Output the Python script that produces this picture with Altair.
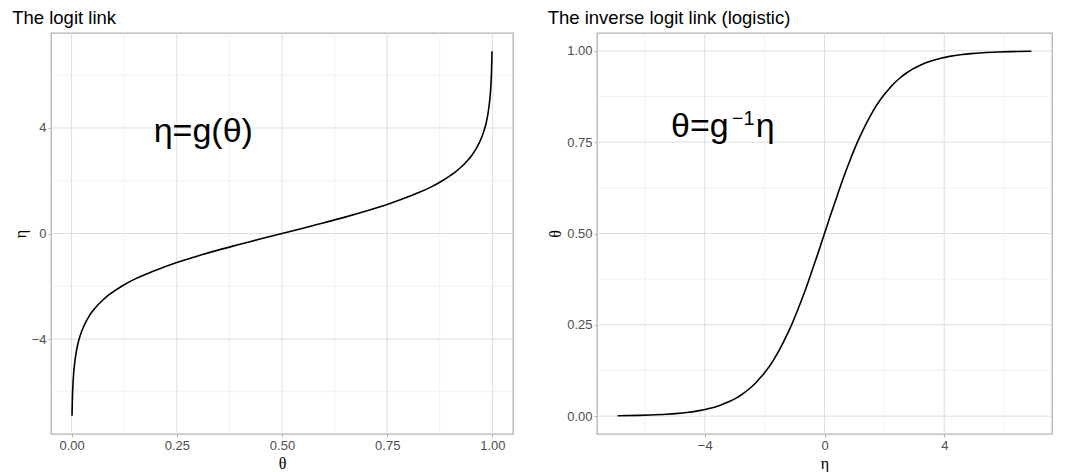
import altair as alt
import pandas as pd

# Probability / linear-predictor pairs along the logit curve
theta = [0.001, 0.002, 0.003, 0.005, 0.0075, 0.01, 0.015, 0.02, 0.03, 0.04,
         0.05, 0.06, 0.075, 0.09, 0.1, 0.12, 0.15, 0.175, 0.2, 0.25,
         0.3, 0.35, 0.4, 0.45, 0.5, 0.55, 0.6, 0.65, 0.7, 0.75,
         0.8, 0.825, 0.85, 0.88, 0.9, 0.91, 0.925, 0.94, 0.95, 0.96,
         0.97, 0.98, 0.985, 0.99, 0.9925, 0.995, 0.997, 0.998, 0.999]
eta = [-6.91, -6.21, -5.81, -5.29, -4.89, -4.60, -4.18, -3.89, -3.48, -3.18,
       -2.94, -2.75, -2.51, -2.31, -2.20, -1.99, -1.73, -1.55, -1.39, -1.10,
       -0.85, -0.62, -0.41, -0.20, 0.00, 0.20, 0.41, 0.62, 0.85, 1.10,
       1.39, 1.55, 1.73, 1.99, 2.20, 2.31, 2.51, 2.75, 2.94, 3.18,
       3.48, 3.89, 4.18, 4.60, 4.89, 5.29, 5.81, 6.21, 6.91]

theta_major = [0.0, 0.25, 0.5, 0.75, 1.0]
theta_minor = [0.125, 0.375, 0.625, 0.875]
eta_major = [-4, 0, 4]
eta_minor = [-6, -2, 2, 6]

curve = pd.DataFrame({"theta": theta, "eta": eta})

THETA_DOM = [-0.0489, 1.0489]
ETA_DOM = [-7.6, 7.6]
H = 401

MAJOR = "#dedede"
MINOR = "#ececec"
minus = "replace(datum.label, '-', '\u2212')"


def axis(values, fmt=None, expr=None, title=""):
    kw = dict(values=values, grid=False, tickColor="#b3b3b3", tickSize=3,
              tickWidth=1, domain=False, labelColor="#4d4d4d", labelFontSize=13,
              labelFont="Liberation Sans", labelPadding=2, title=title,
              titleFont="Liberation Serif", titleFontSize=16,
              titleFontWeight="normal", titleColor="#000000", titlePadding=3)
    if fmt:
        kw["format"] = fmt
    if expr:
        kw["labelExpr"] = expr
    return alt.Axis(**kw)


def panel(xcol, ycol, xs, ys, xax, yax, xmaj, xmin, ymaj, ymin):
    def vgrid(values, color, width):
        return alt.Chart(pd.DataFrame({xcol: values})).mark_rule(
            color=color, strokeWidth=width
        ).encode(x=alt.X(f"{xcol}:Q", scale=xs, axis=xax))

    def hgrid(values, color, width):
        return alt.Chart(pd.DataFrame({ycol: values})).mark_rule(
            color=color, strokeWidth=width
        ).encode(y=alt.Y(f"{ycol}:Q", scale=ys, axis=yax))

    line = alt.Chart(curve).mark_line(
        color="#000000", strokeWidth=1.6, interpolate="monotone"
    ).encode(
        x=alt.X(f"{xcol}:Q", scale=xs, axis=xax),
        y=alt.Y(f"{ycol}:Q", scale=ys, axis=yax),
        order=f"{xcol}:Q",
    )
    return [vgrid(xmin, MINOR, 0.7), hgrid(ymin, MINOR, 0.7),
            vgrid(xmaj, MAJOR, 1), hgrid(ymaj, MAJOR, 1), line]


def title(text):
    return alt.TitleParams(text, anchor="start", fontSize=18.5,
                           font="Liberation Sans", fontWeight="normal",
                           color="#000000", offset=5)


# Left panel: eta = logit(theta)
xs_l = alt.Scale(domain=THETA_DOM, nice=False, zero=False)
ys_l = alt.Scale(domain=ETA_DOM, nice=False, zero=False)
xax_l = axis(theta_major, fmt=".2f", title="θ")
yax_l = axis(eta_major, expr=minus, title="η")

left_label = alt.Chart(pd.DataFrame({"theta": [0.313], "eta": [3.83], "t": ["η=g(θ)"]})).mark_text(
    font="Liberation Sans", fontSize=34, align="center", baseline="middle", color="#000000"
).encode(x=alt.X("theta:Q", scale=xs_l, axis=xax_l),
         y=alt.Y("eta:Q", scale=ys_l, axis=yax_l), text="t:N")

left = alt.layer(
    *panel("theta", "eta", xs_l, ys_l, xax_l, yax_l,
           theta_major, theta_minor, eta_major, eta_minor),
    left_label,
).properties(width=462, height=H, title=title("The logit link"))

# Right panel: theta = inverse logit(eta)
xs_r = alt.Scale(domain=ETA_DOM, nice=False, zero=False)
ys_r = alt.Scale(domain=THETA_DOM, nice=False, zero=False)
xax_r = axis(eta_major, expr=minus, title="η")
yax_r = axis(theta_major, fmt=".2f", title="θ")

anno = pd.DataFrame({"eta": [-3.2], "theta": [0.764]})
enc_r = dict(x=alt.X("eta:Q", scale=xs_r, axis=xax_r),
             y=alt.Y("theta:Q", scale=ys_r, axis=yax_r))
r_main = alt.Chart(anno).mark_text(
    font="Liberation Sans", fontSize=34, align="right", baseline="alphabetic",
    color="#000000", text="θ=g"
).encode(**enc_r)
r_sup = alt.Chart(anno).mark_text(
    font="Liberation Sans", fontSize=20, align="left", baseline="alphabetic",
    color="#000000", text="\u22121", dx=3, dy=-12
).encode(**enc_r)
r_eta = alt.Chart(anno).mark_text(
    font="Liberation Sans", fontSize=34, align="left", baseline="alphabetic",
    color="#000000", text="η", dx=27
).encode(**enc_r)

right = alt.layer(
    *panel("eta", "theta", xs_r, ys_r, xax_r, yax_r,
           eta_major, eta_minor, theta_major, theta_minor),
    r_main, r_sup, r_eta,
).properties(width=455, height=H, title=title("The inverse logit link (logistic)"))

chart = alt.hconcat(left, right, spacing=32).properties(
    padding={"left": 11, "top": 8, "right": 5, "bottom": 5},
    background="#ffffff",
).configure_view(
    stroke="#b3b3b3", strokeWidth=1.3
)

chart.save("out.html", embed_options={"renderer": "svg", "actions": False})
